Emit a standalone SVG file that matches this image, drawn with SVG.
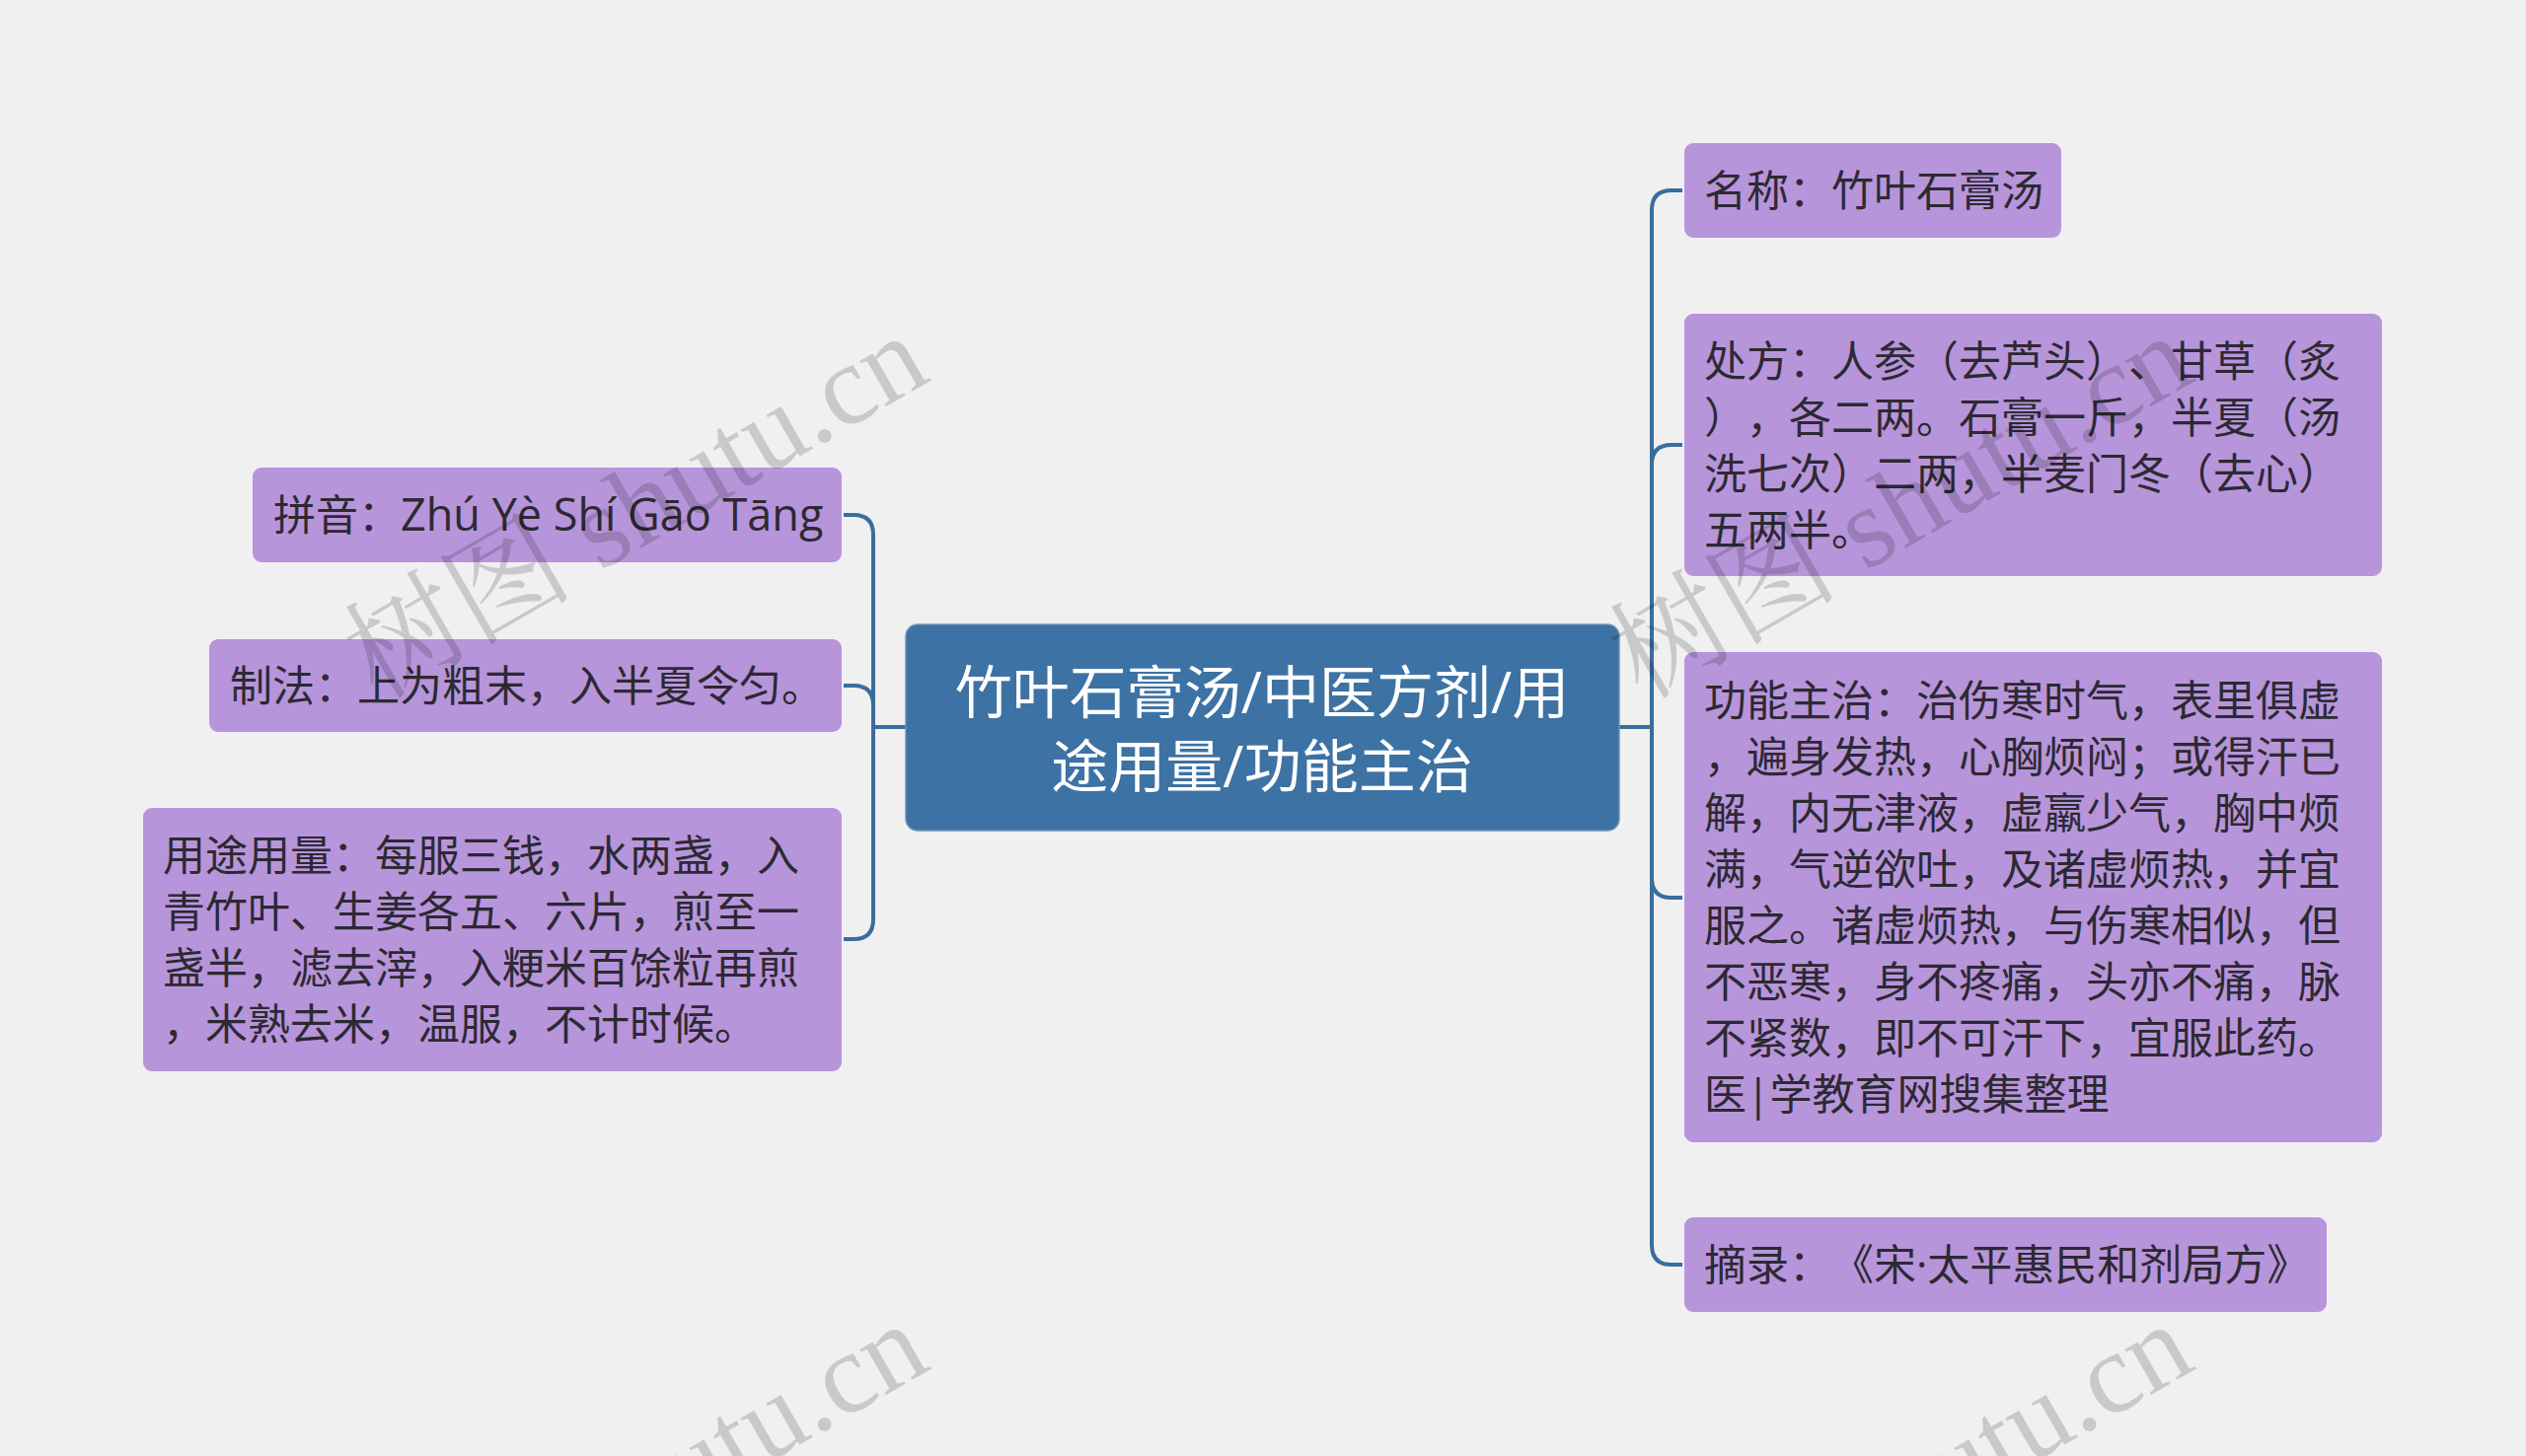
<svg xmlns="http://www.w3.org/2000/svg" width="2560" height="1476" viewBox="0 0 2560 1476">
<style>
.bg{fill:#f0f0f0}
.node{fill:#b795da;stroke:#f3edf9;stroke-width:2}
.root{fill:#3d72a4;stroke:#6a92bb;stroke-width:1.5}
.t{font-family:"Open Sans","Noto Sans CJK SC",sans-serif;font-size:43px;fill:#2d2933;text-spacing-trim:space-all}
.lat{font-size:45px}
.rt{font-family:"Open Sans","Noto Sans CJK SC",sans-serif;font-size:58px;fill:#ffffff;text-anchor:middle;text-spacing-trim:space-all}
.conn path{fill:none;stroke:#3a6d9d;stroke-width:4;stroke-linecap:round}
.wm{font-family:"Liberation Serif","Noto Serif CJK SC","Noto Sans CJK SC",serif;font-size:116px;fill:#000000;fill-opacity:0.16}
</style>
<rect class="bg" x="0" y="0" width="2560" height="1476"/>

<g id="connectors" class="conn">
<path d="M1641 737 H1674 V213 Q1674 193 1694 193 H1706"/>
<path d="M1641 737 H1674 V471 Q1674 451 1694 451 H1706"/>
<path d="M1641 737 H1674 V890 Q1674 910 1694 910 H1706"/>
<path d="M1641 737 H1674 V1262 Q1674 1282 1694 1282 H1706"/>
<path d="M918 737 H885 V542 Q885 522 865 522 H854"/>
<path d="M918 737 H885 V715 Q885 695 865 695 H854"/>
<path d="M918 737 H885 V932 Q885 952 865 952 H854"/>
</g>

<g id="root">
<rect class="root" x="918" y="633" width="723" height="209" rx="12"/>
<text class="rt" x="1279" y="723">竹叶石膏汤/中医方剂/用</text>
<text class="rt" x="1279" y="798">途用量/功能主治</text>
</g>

<g id="node-pinyin">
<rect class="node" x="255" y="473" width="599" height="98" rx="10"/>
<text class="t" x="277" y="538">拼音：<tspan class="lat">Zhú Yè Shí Gāo Tāng</tspan></text>
</g>

<g id="node-zhifa">
<rect class="node" x="211" y="647" width="643" height="96" rx="10"/>
<text class="t" x="233" y="711">制法：上为粗末，入半夏令匀。</text>
</g>

<g id="node-yongtu">
<rect class="node" x="144" y="818" width="710" height="269" rx="10"/>
<text class="t" x="165" y="883">用途用量：每服三钱，水两盏，入</text>
<text class="t" x="165" y="940">青竹叶、生姜各五、六片，煎至一</text>
<text class="t" x="165" y="997">盏半，滤去滓，入粳米百馀粒再煎</text>
<text class="t" x="165" y="1054">，米熟去米，温服，不计时候。</text>
</g>

<g id="node-mingcheng">
<rect class="node" x="1706" y="144" width="384" height="98" rx="10"/>
<text class="t" x="1727" y="209">名称：竹叶石膏汤</text>
</g>

<g id="node-chufang">
<rect class="node" x="1706" y="317" width="709" height="268" rx="10"/>
<text class="t" x="1727" y="382">处方：人参（去芦头）、甘草（炙</text>
<text class="t" x="1727" y="439">），各二两。石膏一斤，半夏（汤</text>
<text class="t" x="1727" y="496">洗七次）二两，半麦门冬（去心）</text>
<text class="t" x="1727" y="553">五两半。</text>
</g>

<g id="node-gongneng">
<rect class="node" x="1706" y="660" width="709" height="499" rx="10"/>
<text class="t" x="1727" y="726">功能主治：治伤寒时气，表里俱虚</text>
<text class="t" x="1727" y="783">，遍身发热，心胸烦闷；或得汗已</text>
<text class="t" x="1727" y="840">解，内无津液，虚羸少气，胸中烦</text>
<text class="t" x="1727" y="897">满，气逆欲吐，及诸虚烦热，并宜</text>
<text class="t" x="1727" y="954">服之。诸虚烦热，与伤寒相似，但</text>
<text class="t" x="1727" y="1011">不恶寒，身不疼痛，头亦不痛，脉</text>
<text class="t" x="1727" y="1068">不紧数，即不可汗下，宜服此药。</text>
<text class="t" x="1727" y="1125">医|学教育网搜集整理</text>
</g>

<g id="node-zhailu">
<rect class="node" x="1706" y="1233" width="653" height="98" rx="10"/>
<text class="t" x="1727" y="1298">摘录：《宋·太平惠民和剂局方》</text>
</g>

<g id="watermarks">
<text class="wm" transform="translate(382,710) rotate(-30)">树图 shutu.cn</text>
<text class="wm" transform="translate(1664,710) rotate(-30)">树图 shutu.cn</text>
<text class="wm" transform="translate(382,1712) rotate(-30)">树图 shutu.cn</text>
<text class="wm" transform="translate(1664,1712) rotate(-30)">树图 shutu.cn</text>
</g>
</svg>
